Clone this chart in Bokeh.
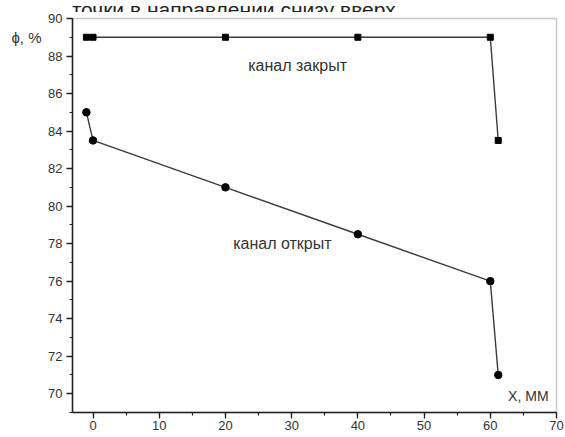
from bokeh.plotting import figure
from bokeh.layouts import column
from bokeh.models import Label, Range1d, SingleIntervalTicker, LinearAxis, FixedTicker
from bokeh.embed import file_html
from bokeh.resources import INLINE

# data
x_closed = [-1, 0, 20, 40, 60, 61.2]
phi_closed = [89, 89, 89, 89, 89, 83.5]
x_open = [-1, 0, 20, 40, 60, 61.2]
phi_open = [85, 83.5, 81, 78.5, 76, 71]
caption = "точки в направлении снизу вверх."
y_label = "ϕ, %"
x_label = "X, ММ"
label_closed = "канал закрыт"
label_open = "канал открыт"

FONT = "Liberation Sans"
TXT = "#333333"

# strip with the cropped caption (its upper half lies outside the picture)
cap = figure(width=565, height=12, output_backend="svg", toolbar_location=None,
             x_range=Range1d(0, 565), y_range=Range1d(0, 12),
             x_axis_location=None, y_axis_location=None,
             min_border=0, min_border_left=0, min_border_right=0,
             min_border_top=0, min_border_bottom=0)
cap.outline_line_color = None
cap.grid.visible = False
cap.border_fill_color = "white"
cap.add_layout(Label(x=-1, y=3, text=caption, text_font=FONT, text_font_size="21px",
                     text_color="#222222", text_align="left", text_baseline="alphabetic"))

p = figure(width=565, height=425, output_backend="svg", toolbar_location=None,
           x_range=Range1d(-3.1, 70), y_range=Range1d(69, 90),
           min_border_left=72, min_border_right=9, min_border_top=6, min_border_bottom=25)
p.background_fill_color = "white"
p.border_fill_color = "white"
p.outline_line_color = "#c8c8c8"
p.outline_line_width = 1.5
p.grid.visible = False

for ax, step in ((p.xaxis[0], 10), (p.yaxis[0], 2)):
    ax.ticker = SingleIntervalTicker(interval=step, num_minor_ticks=2)
    ax.axis_line_color = "#222222"
    ax.axis_line_width = 1.5
    ax.major_tick_line_color = "#222222"
    ax.minor_tick_line_color = "#222222"
    ax.major_tick_line_width = 1.3
    ax.minor_tick_line_width = 1.2
    ax.major_tick_in = 0
    ax.major_tick_out = 6
    ax.minor_tick_in = 0
    ax.minor_tick_out = 3
    ax.major_label_text_font = FONT
    ax.major_label_text_font_size = "13px"
    ax.major_label_text_color = TXT
p.xaxis.major_label_standoff = 2
p.yaxis.major_label_standoff = 4

# y-axis name shown as a single tick label at the top of the left side
name_axis = LinearAxis(ticker=FixedTicker(ticks=[89]), major_label_overrides={89: y_label})
name_axis.axis_line_color = None
name_axis.major_tick_line_color = None
name_axis.minor_tick_line_color = None
name_axis.major_tick_out = 0
name_axis.major_label_standoff = 4
name_axis.major_label_text_font = FONT
name_axis.major_label_text_font_size = "15px"
name_axis.major_label_text_color = TXT
p.add_layout(name_axis, "left")

LC = "#3a3a3a"
p.line(x_closed, phi_closed, line_color=LC, line_width=1.4)
p.scatter(x_closed, phi_closed, marker="square", size=6, color="black")
p.line(x_open, phi_open, line_color=LC, line_width=1.4)
p.scatter(x_open, phi_open, marker="circle", size=7.5, color="black")

def lab(x, y, t, size, align="center", base="middle"):
    p.add_layout(Label(x=x, y=y, text=t, text_font=FONT, text_font_size=size,
                       text_color=TXT, text_align=align, text_baseline=base))

lab(30.9, 87.5, label_closed, "16px")
lab(28.6, 78.03, label_open, "16px")
lab(68.8, 69.9, x_label, "14px", align="right")

layout = column(cap, p, spacing=0)
open("out.html", "w").write(file_html(layout, INLINE))
